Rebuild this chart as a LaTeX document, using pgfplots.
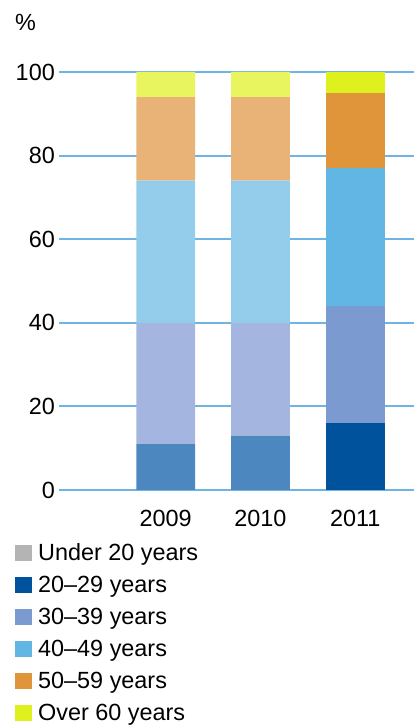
\documentclass[border=0pt]{standalone}
\usepackage{pgfplots}
\pgfplotsset{compat=1.18}
\usepackage{fontspec}
\setmainfont{Liberation Sans}
\definecolor{gridblue}{HTML}{6EB5E5}
\definecolor{cU}{HTML}{B4B4B4}
\definecolor{cA}{HTML}{00529C}
\definecolor{cB}{HTML}{7B9BD0}
\definecolor{cC}{HTML}{62B6E3}
\definecolor{cD}{HTML}{E0953A}
\definecolor{cE}{HTML}{DEF01E}
\definecolor{lA}{HTML}{4D87BF}
\definecolor{lB}{HTML}{A4B6DF}
\definecolor{lC}{HTML}{93CDEB}
\definecolor{lD}{HTML}{E9B276}
\definecolor{lE}{HTML}{E8F55E}
\begin{document}
\begin{tikzpicture}
\path[use as bounding box] (0,0) rectangle (414bp,728bp);
\begin{axis}[
  at={(59bp,238bp)}, anchor=south west,
  scale only axis, width=355bp, height=418bp,
  xmin=-1.126, xmax=2.62, ymin=0, ymax=100,
  axis line style={draw=none}, major tick style={draw=none},
  ytick={0,20,...,100}, ymajorgrids,
  grid style={color=gridblue, line width=2bp},
  xtick={0,1,2}, xticklabels={2009,2010,2011},
  ybar stacked, bar width=0.62,
  tick label style={font=\fontsize{23.5}{27}\selectfont},
  /pgf/number format/assume math mode=true,
  yticklabel style={inner sep=0pt, xshift=-4bp},
  xticklabel style={inner sep=0pt, yshift=-20bp},
  legend image code/.code={\fill[#1] (0bp,-7.5bp) rectangle (17bp,8.5bp);},
  legend style={at={(axis description cs:-0.124,-0.126)}, anchor=north west,
    draw=none, fill=none, font=\fontsize{23.5}{27}\selectfont,
    row sep=12.1bp, column sep=0bp, inner sep=0pt,
    nodes={inner sep=1bp},
    /tikz/every odd column/.append style={column sep=5bp}},
  legend cell align=left,
]
\addlegendimage{fill=cU, draw=none}\addlegendentry{Under 20 years}
\addlegendimage{fill=cA, draw=none}\addlegendentry{20--29 years}
\addlegendimage{fill=cB, draw=none}\addlegendentry{30--39 years}
\addlegendimage{fill=cC, draw=none}\addlegendentry{40--49 years}
\addlegendimage{fill=cD, draw=none}\addlegendentry{50--59 years}
\addlegendimage{fill=cE, draw=none}\addlegendentry{Over 60 years}
% Under 20 years
\addplot[fill=cU, draw=none, forget plot] coordinates {(0,0) (1,0) (2,0)};
% 20-29
\addplot[fill=lA, draw=none, forget plot] coordinates {(0,11) (1,13) (2,0)};
\addplot[fill=cA, draw=none, forget plot] coordinates {(0,0) (1,0) (2,16)};
% 30-39
\addplot[fill=lB, draw=none, forget plot] coordinates {(0,29) (1,27) (2,0)};
\addplot[fill=cB, draw=none, forget plot] coordinates {(0,0) (1,0) (2,28)};
% 40-49
\addplot[fill=lC, draw=none, forget plot] coordinates {(0,34) (1,34) (2,0)};
\addplot[fill=cC, draw=none, forget plot] coordinates {(0,0) (1,0) (2,33)};
% 50-59
\addplot[fill=lD, draw=none, forget plot] coordinates {(0,20) (1,20) (2,0)};
\addplot[fill=cD, draw=none, forget plot] coordinates {(0,0) (1,0) (2,18)};
% Over 60
\addplot[fill=lE, draw=none, forget plot] coordinates {(0,6) (1,6) (2,0)};
\addplot[fill=cE, draw=none, forget plot] coordinates {(0,0) (1,0) (2,5)};
\end{axis}
\node[anchor=west, inner sep=0pt, font=\fontsize{23.5}{27}\selectfont] at (15bp,706bp) {\%};
\end{tikzpicture}
\end{document}
